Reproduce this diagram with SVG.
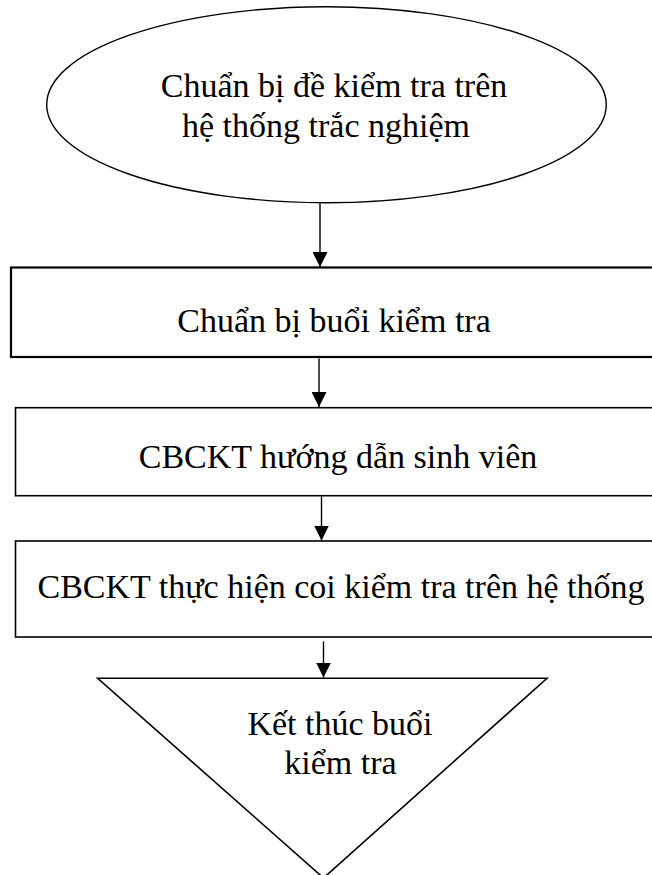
<svg xmlns="http://www.w3.org/2000/svg" width="652" height="875" viewBox="0 0 652 875">
  <style>
    .shape { fill: #ffffff; stroke: #000000; }
    .lbl { font-family: "Liberation Serif", "Times New Roman", serif; font-size: 34px; fill: #000000; text-anchor: middle; }
    .conn { stroke: #000000; stroke-width: 1.4; fill: none; }
  </style>
  <defs>
    <marker id="arrow" markerUnits="userSpaceOnUse" markerWidth="15" markerHeight="15" refX="15" refY="7.5" orient="auto">
      <path d="M0,0 L15,7.5 L0,15 Z" fill="#000000"/>
    </marker>
  </defs>
  <rect width="652" height="875" fill="#ffffff"/>

  <g id="start">
    <ellipse class="shape" cx="326.5" cy="104.7" rx="279.8" ry="98" stroke-width="1.4"/>
    <text class="lbl" x="334" y="97">Chuẩn bị đề kiểm tra trên</text>
    <text class="lbl" x="326" y="137">hệ thống trắc nghiệm</text>
  </g>

  <g id="step1">
    <rect class="shape" x="11" y="267.5" width="660" height="89.5" stroke-width="2.2"/>
    <text class="lbl" x="334" y="331.5">Chuẩn bị buổi kiểm tra</text>
  </g>

  <g id="step2">
    <rect class="shape" x="15.5" y="407.7" width="660" height="88" stroke-width="1.6"/>
    <text class="lbl" x="338" y="468">CBCKT hướng dẫn sinh viên</text>
  </g>

  <g id="step3">
    <rect class="shape" x="15.5" y="541" width="660" height="96" stroke-width="1.6"/>
    <text class="lbl" x="341" y="598">CBCKT thực hiện coi kiểm tra trên hệ thống</text>
  </g>

  <g id="end">
    <polygon class="shape" points="97.7,678.3 547,678.3 323.5,878" stroke-width="1.6"/>
    <text class="lbl" x="340" y="735">Kết thúc buổi</text>
    <text class="lbl" x="340.5" y="774">kiểm tra</text>
  </g>

  <g id="connectors">
    <line class="conn" x1="320" y1="203" x2="320" y2="267" marker-end="url(#arrow)"/>
    <line class="conn" x1="319" y1="358.5" x2="319" y2="407" marker-end="url(#arrow)"/>
    <line class="conn" x1="321.5" y1="496.5" x2="321.5" y2="540.5" marker-end="url(#arrow)"/>
    <line class="conn" x1="323.5" y1="641.5" x2="323.5" y2="677.5" marker-end="url(#arrow)"/>
  </g>
</svg>
